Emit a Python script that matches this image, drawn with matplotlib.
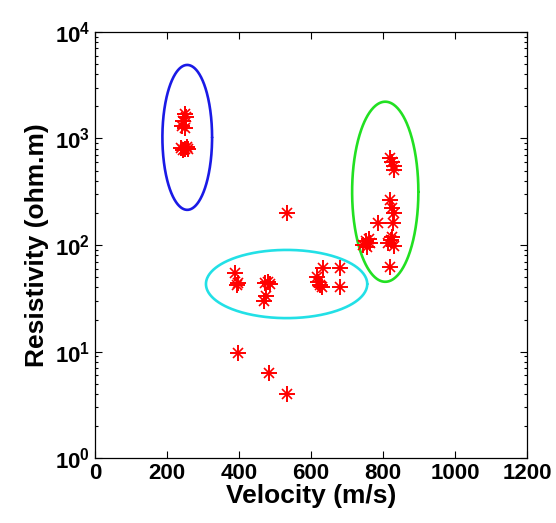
import numpy as np
import matplotlib
matplotlib.use("Agg")
import matplotlib.pyplot as plt

plt.rcParams['font.family'] = ['Liberation Sans', 'DejaVu Sans']

# velocity (m/s) and resistivity (ohm.m)
vel_blue = [250, 252, 245, 242, 250, 240, 250, 256, 245, 258]
res_blue = [1700, 1600, 1450, 1300, 1250, 820, 800, 830, 780, 800]

vel_cyan = [532, 389, 394, 396, 472, 480, 486, 470, 476, 617, 620, 625, 630, 633, 681, 681, 397, 483, 532]
res_cyan = [200, 55, 42, 44, 44, 45, 43, 30, 33, 50, 45, 42, 40, 61, 61, 40, 9.7, 6.3, 4.0]

vel_green = [819, 824, 829, 831, 820, 826, 830, 786, 828, 745, 752, 760, 765, 755,
             814, 822, 830, 825, 819]
res_green = [650, 600, 550, 510, 264, 223, 200, 161, 161, 100, 108, 115, 105, 95,
             105, 112, 98, 120, 62]

# outlines: (centre velocity, half width, log10 centre, half height in decades)
clusters = {
    "blue": (256, 69, 3.01, 0.68, "#1a1ae6"),
    "cyan": (532, 224, 1.634, 0.32, "#22e0e6"),
    "green": (806, 92, 2.50, 0.845, "#22e022"),
}

fig = plt.figure(figsize=(5.56, 5.23), dpi=100)
ax = fig.add_axes([0.171, 0.124, 0.777, 0.815])
ax.set_yscale("log")

t = np.linspace(0, 2 * np.pi, 400)
for name, (cx, a, cy, b, col) in clusters.items():
    ax.plot(cx + a * np.cos(t), 10 ** (cy + b * np.sin(t)), color=col, linewidth=1.9,
            solid_capstyle="round", solid_joinstyle="round")

# matlab-like '*' marker: a plus with a smaller cross on top
for v, r in [(vel_blue, res_blue), (vel_cyan, res_cyan), (vel_green, res_green)]:
    ax.plot(v, r, linestyle="none", marker="+", markersize=11, markeredgewidth=1.4,
            color="red")
    ax.plot(v, r, linestyle="none", marker="x", markersize=7, markeredgewidth=1.2,
            color="red")

ax.set_xlim(0, 1200)
ax.set_ylim(1, 1e4)
ax.set_xticks([0, 200, 400, 600, 800, 1000, 1200])
ax.tick_params(axis="both", which="both", direction="in", top=True, right=True,
               labelsize=16, width=0.8)
ax.tick_params(axis="both", which="major", length=5)
ax.tick_params(axis="y", which="minor", length=2.5)
for lab in ax.get_xticklabels() + ax.get_yticklabels():
    lab.set_fontweight("bold")
for sp in ax.spines.values():
    sp.set_linewidth(0.9)

ax.set_xlabel("Velocity (m/s)", fontsize=19, fontweight="bold", labelpad=0)
ax.set_ylabel("Resistivity (ohm.m)", fontsize=19, fontweight="bold", labelpad=4)

fig.savefig("out.png", dpi=100)
